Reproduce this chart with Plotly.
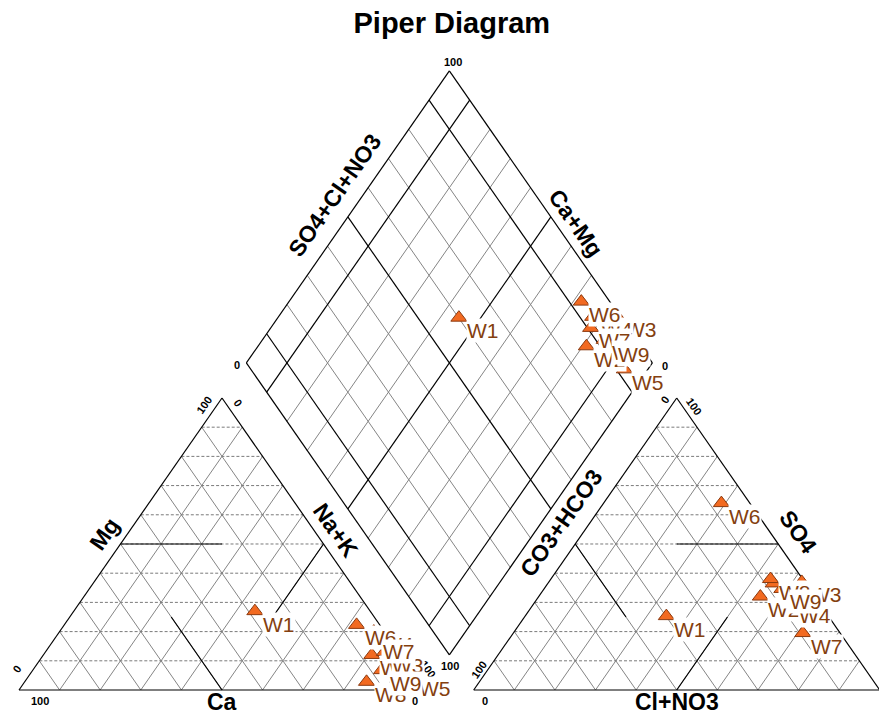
import numpy as np
import plotly.graph_objects as go

# ---------------- data (percent) ----------------
samples = ["W1", "W2", "W3", "W4", "W5", "W6", "W7", "W8", "W9"]
ca   = [28.4, 7.1, 3.5, 2.6, 1.0, 5.7, 3.5, 13.0, 7.3]
mg   = [27.0, 12.0, 13.0, 20.0, 4.8, 22.3, 17.7, 2.8, 6.8]
na_k = [44.6, 80.9, 83.5, 77.4, 94.2, 72.0, 78.8, 84.2, 85.9]
hco3 = [39.9, 13.4, 0.7, 6.8, 8.0, 7.0, 9.2, 7.9, 6.8]
so4  = [25.3, 32.0, 37.0, 30.0, 36.5, 64.0, 19.5, 38.0, 34.6]
cl   = [34.8, 54.6, 62.3, 63.2, 55.5, 29.0, 71.3, 54.1, 58.6]

# ---------------- geometry ----------------
G = 0.12
H = np.sqrt(3) / 2
BX, BY = 1 + G / 2, G * H


def cat_xy(c, m, n):
    s = c + m + n
    return n / s + m / s / 2, m / s * H


def an_xy(h, s4, c):
    s = h + s4 + c
    return 1 + G + c / s + s4 / s / 2, s4 / s * H


def dia_xy(a, n):
    return BX - 0.5 + 0.5 * (a + n), BY + H + H * (a - n)


gray, dash, black = ([], []), ([], []), ([], [])


def seg(lst, p, q):
    lst[0].extend([p[0], q[0], None])
    lst[1].extend([p[1], q[1], None])


for i in range(1, 10):
    f = i / 10
    # cation triangle
    seg(dash, cat_xy(1 - f, f, 0), cat_xy(0, f, 1 - f))
    seg(gray, cat_xy(f, 0, 1 - f), cat_xy(f, 1 - f, 0))
    seg(gray, cat_xy(1 - f, 0, f), cat_xy(0, 1 - f, f))
    # anion triangle
    seg(dash, an_xy(1 - f, f, 0), an_xy(0, f, 1 - f))
    seg(gray, an_xy(f, 0, 1 - f), an_xy(f, 1 - f, 0))
    seg(gray, an_xy(1 - f, 0, f), an_xy(0, 1 - f, f))
    # diamond
    tgt = black if i in (1, 5, 9) else gray
    seg(tgt, dia_xy(f, 0), dia_xy(f, 1))
    seg(tgt, dia_xy(0, f), dia_xy(1, f))

# outlines
for a, b in [((1, 0, 0), (0, 0, 1)), ((0, 0, 1), (0, 1, 0)), ((0, 1, 0), (1, 0, 0))]:
    seg(black, cat_xy(*a), cat_xy(*b))
    seg(black, an_xy(*a), an_xy(*b))
for a, b in [((0, 0), (1, 0)), ((1, 0), (1, 1)), ((1, 1), (0, 1)), ((0, 1), (0, 0))]:
    seg(black, dia_xy(*a), dia_xy(*b))

# facies lines in triangles
seg(black, cat_xy(.5, .5, 0), cat_xy(.25, .5, .25))
seg(black, cat_xy(0, .5, .5), cat_xy(.25, .25, .5))
seg(black, cat_xy(.5, 0, .5), cat_xy(.5, .25, .25))
seg(black, an_xy(0, .5, .5), an_xy(.25, .5, .25))
seg(black, an_xy(.5, .5, 0), an_xy(.5, .25, .25))
seg(black, an_xy(.5, 0, .5), an_xy(.25, .25, .5))

fig = go.Figure()
fig.add_trace(go.Scatter(x=gray[0], y=gray[1], mode="lines",
                         line=dict(color="#858585", width=1), hoverinfo="skip"))
fig.add_trace(go.Scatter(x=dash[0], y=dash[1], mode="lines",
                         line=dict(color="#7a7a7a", width=1, dash="3px,2px"), hoverinfo="skip"))
fig.add_trace(go.Scatter(x=black[0], y=black[1], mode="lines",
                         line=dict(color="#000000", width=1.2), hoverinfo="skip"))

# sample points
px, py, lab = [], [], []
for k in range(len(samples)):
    c = cat_xy(ca[k], mg[k], na_k[k])
    a = an_xy(hco3[k], so4[k], cl[k])
    tot_a = hco3[k] + so4[k] + cl[k]
    tot_c = ca[k] + mg[k] + na_k[k]
    d = dia_xy((so4[k] + cl[k]) / tot_a, na_k[k] / tot_c)
    for p in (c, a, d):
        px.append(p[0]); py.append(p[1]); lab.append(samples[k])

fig.add_trace(go.Scatter(x=px, y=py, mode="markers",
                         marker=dict(symbol="triangle-up", size=14, color="#f26a21",
                                     line=dict(color="#8b3a10", width=1)),
                         hoverinfo="skip"))

ann = []
TF = dict(family="Liberation Sans, Arial, sans-serif", size=11, color="black")


def tick(txt, p, dx, dy, ang=0):
    ann.append(dict(x=p[0], y=p[1], text="<b>%s</b>" % txt, showarrow=False,
                    xshift=dx, yshift=-dy, textangle=ang, font=TF,
                    xanchor="center", yanchor="middle"))


# cation triangle ticks
tick("100", cat_xy(0, 1, 0), -18, 7, -55)
tick("0", cat_xy(0, 1, 0), 16, 5, 55)
tick("0", cat_xy(1, 0, 0), -2, -21, -55)
tick("100", cat_xy(1, 0, 0), 21, 11)
tick("100", cat_xy(0, 0, 1), 3, -21, 55)
tick("0", cat_xy(0, 0, 1), -10, 11)
# anion triangle ticks
tick("0", an_xy(0, 1, 0), -12, 2, -55)
tick("100", an_xy(0, 1, 0), 17, 8, 55)
tick("100", an_xy(1, 0, 0), 5, -20, -55)
tick("0", an_xy(1, 0, 0), 11, 11)
tick("0", an_xy(0, 0, 1), -3, -22, 55)
tick("100", an_xy(0, 0, 1), -11, 11)
# diamond ticks
tick("100", dia_xy(1, 0), 4, -9)
tick("0", dia_xy(0, 0), -9, 2)
tick("0", dia_xy(1, 1), 13, 3)
tick("100", dia_xy(0, 1), 1, 11)

AF = dict(family="Liberation Sans, Arial, sans-serif", size=23, color="black")


def title(txt, p, dx, dy, ang=0):
    ann.append(dict(x=p[0], y=p[1], text="<b>%s</b>" % txt, showarrow=False,
                    xshift=dx, yshift=-dy, textangle=ang, font=AF,
                    xanchor="center", yanchor="middle"))


title("Mg", cat_xy(.5, .5, 0), -16, -10, -55)
title("Ca", cat_xy(.5, 0, .5), 0, 12)
title("Na+K", cat_xy(0, .5, .5), 12, -14, 55)
title("SO4+Cl+NO3", dia_xy(.5, 0), -13, -22, -55)
title("Ca+Mg", dia_xy(1, .5), 25, 6, 55)
title("CO3+HCO3", an_xy(.5, .5, 0), -14, -21, -55)
title("SO4", an_xy(0, .5, .5), 20, -12, 55)
title("Cl+NO3", an_xy(.5, 0, .5), 0, 12)

LF = dict(family="Liberation Sans, Arial, sans-serif", size=21, color="#84400f")
for k in range(len(samples)):
    for j in range(3):
        i = 3 * k + j
        ann.append(dict(x=px[i], y=py[i], text=lab[i], showarrow=False,
                        xanchor="left", yanchor="middle", xshift=7, yshift=-13,
                        font=LF, bgcolor="white", borderpad=0))

fig.update_layout(
    width=879, height=715,
    margin=dict(l=0, r=0, t=0, b=0),
    paper_bgcolor="white", plot_bgcolor="white",
    showlegend=False,
    xaxis=dict(range=[-19 / 406, 860 / 406], visible=False, fixedrange=True),
    yaxis=dict(range=[-25 / 337.2, 690 / 337.2], visible=False, fixedrange=True),
    annotations=ann,
    title=dict(text="<b>Piper Diagram</b>", x=0.514, y=0.968, xanchor="center", yanchor="middle",
               font=dict(family="Liberation Sans, Arial, sans-serif", size=29, color="black")),
)

fig.write_html("out.html", config={"displayModeBar": False},
               post_script="document.body.style.margin='0';")
